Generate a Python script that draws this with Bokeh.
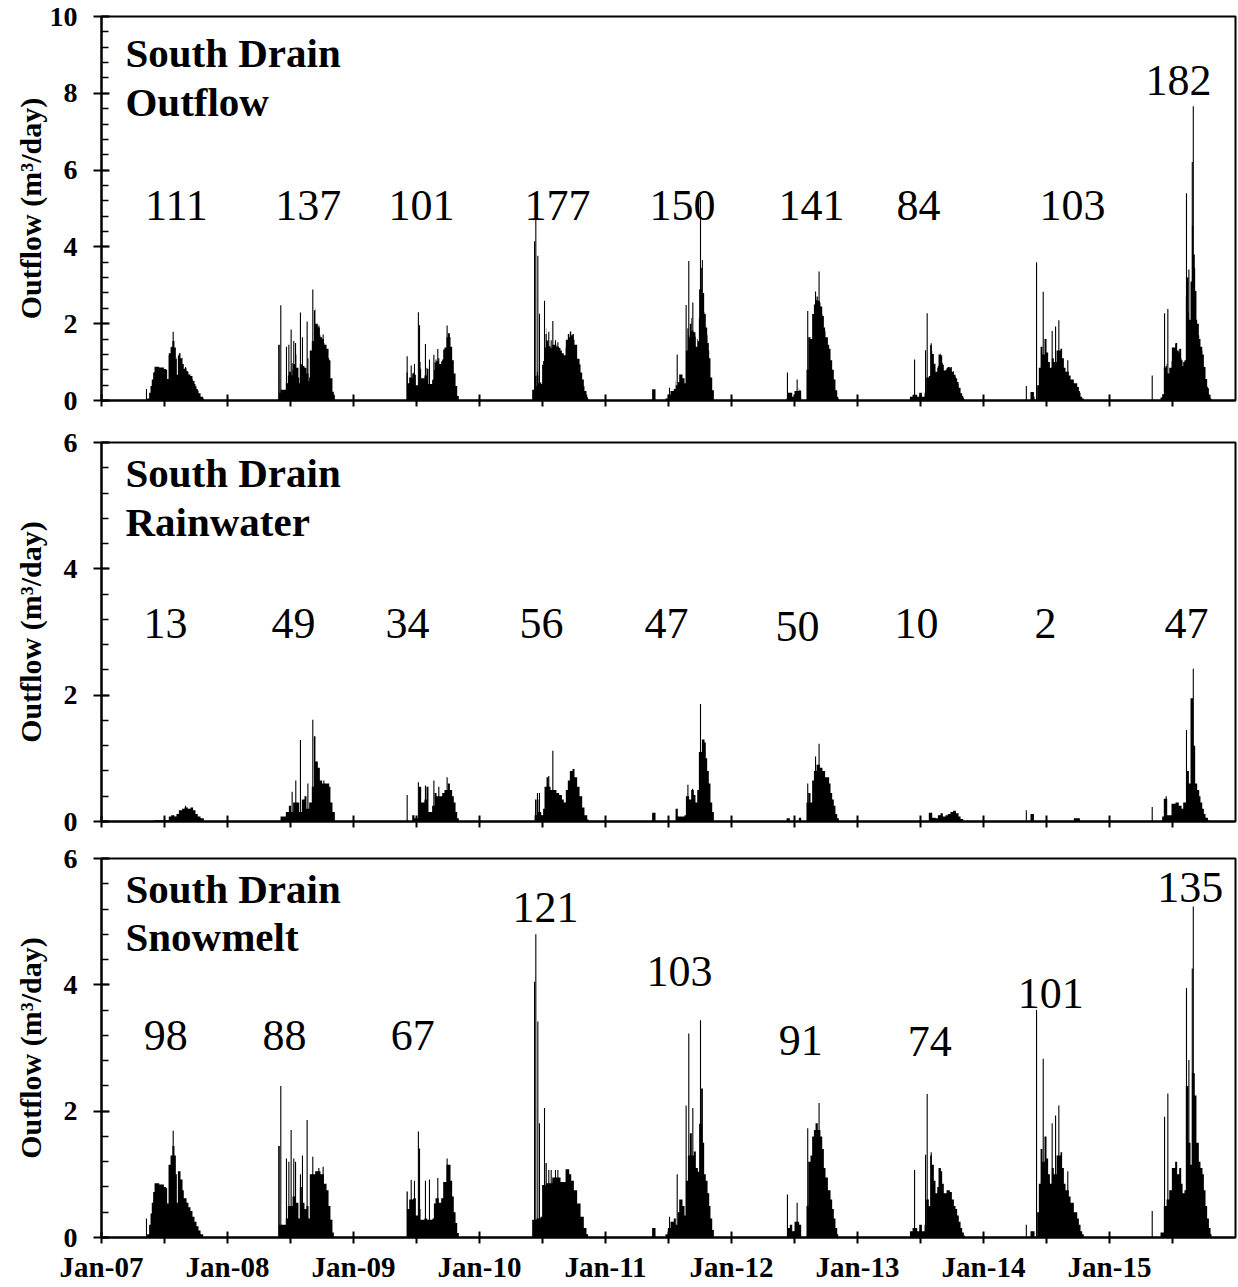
import numpy as np
from bokeh.plotting import figure
from bokeh.layouts import column
from bokeh.models import FixedTicker, SingleIntervalTicker, Range1d
from bokeh.core.properties import value
from bokeh.embed import file_html
from bokeh.resources import INLINE

FONT = "Liberation Serif"

# ---------------------------------------------------------------------------
# Daily drain outflow split into rainwater and snowmelt, m3/day.
# Each season is a step series of (decimal year, rate) readings; the rate
# holds until the next reading.  Single-day peaks are listed separately.
# ---------------------------------------------------------------------------
rain_2007 = [(2007.415, 0.02), (2007.534, 0.08), (2007.553, 0.10), (2007.579, 0.08), (2007.595, 0.12),
             (2007.614, 0.18), (2007.640, 0.20), (2007.659, 0.22), (2007.685, 0.20), (2007.706, 0.22),
             (2007.727, 0.18), (2007.746, 0.12), (2007.764, 0.08), (2007.786, 0.05), (2007.812, 0.0)]
rain_2007_peaks = [(2007.667, 0.25)]

rain_2008 = [(2008.421, 0.08), (2008.463, 0.15), (2008.487, 0.25), (2008.505, 0.15), (2008.521, 0.30),
             (2008.569, 0.15), (2008.590, 0.35), (2008.611, 0.40), (2008.627, 0.20), (2008.648, 0.30),
             (2008.669, 0.55), (2008.685, 1.35), (2008.698, 0.95), (2008.717, 0.85), (2008.733, 0.65),
             (2008.751, 0.60), (2008.807, 0.55), (2008.817, 0.30), (2008.833, 0.15), (2008.852, 0.0)]
rain_2008_peaks = [(2008.513, 0.47), (2008.542, 0.65), (2008.579, 1.29), (2008.638, 0.60),
                   (2008.677, 1.61), (2008.765, 0.65)]

rain_2009 = [(2009.466, 0.10), (2009.484, 0.05), (2009.519, 0.55), (2009.537, 0.30), (2009.563, 0.35),
             (2009.579, 0.55), (2009.595, 0.15), (2009.624, 0.25), (2009.643, 0.45), (2009.659, 0.40),
             (2009.704, 0.45), (2009.722, 0.50), (2009.749, 0.60), (2009.765, 0.50), (2009.783, 0.40),
             (2009.796, 0.30), (2009.810, 0.15), (2009.823, 0.05), (2009.836, 0.0)]
rain_2009_peaks = [(2009.426, 0.42), (2009.515, 0.62), (2009.571, 0.57), (2009.638, 0.65),
                   (2009.677, 0.55), (2009.743, 0.70)]

rain_2010 = [(2010.437, 0.10), (2010.452, 0.35), (2010.468, 0.15), (2010.490, 0.10), (2010.505, 0.20),
             (2010.516, 0.55), (2010.532, 0.70), (2010.548, 0.55), (2010.564, 0.50), (2010.611, 0.45),
             (2010.632, 0.42), (2010.654, 0.35), (2010.669, 0.30), (2010.685, 0.50), (2010.701, 0.65),
             (2010.717, 0.80), (2010.738, 0.83), (2010.754, 0.70), (2010.775, 0.55), (2010.794, 0.40),
             (2010.815, 0.22), (2010.833, 0.10), (2010.855, 0.03), (2010.865, 0.0)]
rain_2010_peaks = [(2010.445, 0.35), (2010.460, 0.45), (2010.476, 0.45), (2010.550, 0.72), (2010.582, 1.12)]

rain_2011 = [(2011.370, 0.14), (2011.397, 0.0), (2011.556, 0.20), (2011.574, 0.08), (2011.627, 0.10),
             (2011.638, 0.40), (2011.664, 0.35), (2011.680, 0.50), (2011.701, 0.42), (2011.714, 0.30),
             (2011.728, 0.50), (2011.741, 1.10), (2011.765, 1.30), (2011.786, 1.25), (2011.796, 1.00),
             (2011.807, 0.80), (2011.820, 0.60), (2011.833, 0.30), (2011.847, 0.15), (2011.860, 0.0)]
rain_2011_peaks = [(2011.654, 0.58), (2011.691, 0.52), (2011.754, 1.86)]

rain_2012 = [(2012.437, 0.05), (2012.463, 0.0), (2012.534, 0.06), (2012.553, 0.0), (2012.595, 0.30),
             (2012.609, 0.45), (2012.627, 0.30), (2012.640, 0.65), (2012.654, 0.80), (2012.675, 0.90),
             (2012.701, 0.85), (2012.722, 0.80), (2012.743, 0.70), (2012.775, 0.60), (2012.786, 0.45),
             (2012.799, 0.35), (2012.812, 0.25), (2012.825, 0.12), (2012.839, 0.05), (2012.852, 0.0)]
rain_2012_peaks = [(2012.605, 0.60), (2012.667, 1.03), (2012.695, 1.23)]

rain_2013 = [(2013.566, 0.14), (2013.593, 0.06), (2013.619, 0.05), (2013.638, 0.10), (2013.659, 0.13),
             (2013.677, 0.08), (2013.699, 0.10), (2013.717, 0.12), (2013.738, 0.15), (2013.759, 0.17),
             (2013.781, 0.13), (2013.802, 0.08), (2013.818, 0.04), (2013.839, 0.0)]
rain_2013_peaks = []

rain_2014 = [(2014.373, 0.12), (2014.400, 0.0), (2014.717, 0.05), (2014.765, 0.0)]
rain_2014_peaks = [(2014.340, 0.18)]

rain_2015 = [(2015.418, 0.08), (2015.431, 0.36), (2015.458, 0.10), (2015.492, 0.28), (2015.524, 0.30),
             (2015.550, 0.25), (2015.572, 0.20), (2015.585, 0.30), (2015.611, 0.80), (2015.630, 0.60),
             (2015.643, 1.95), (2015.664, 1.20), (2015.680, 0.60), (2015.696, 0.50), (2015.712, 0.40),
             (2015.722, 0.30), (2015.736, 0.20), (2015.749, 0.12), (2015.762, 0.06), (2015.781, 0.02),
             (2015.791, 0.0)]
rain_2015_peaks = [(2015.339, 0.23), (2015.450, 0.40), (2015.611, 1.45), (2015.665, 2.42)]

snow_2007 = [(2007.362, 0.05), (2007.378, 0.20), (2007.389, 0.38), (2007.399, 0.55), (2007.410, 0.72),
             (2007.421, 0.86), (2007.458, 0.84), (2007.495, 0.80), (2007.513, 0.78), (2007.521, 0.54),
             (2007.532, 1.15), (2007.548, 1.30), (2007.563, 1.45), (2007.579, 1.30), (2007.590, 1.00),
             (2007.598, 0.55), (2007.606, 1.05), (2007.627, 0.92), (2007.643, 0.75), (2007.653, 0.62),
             (2007.675, 0.55), (2007.690, 0.48), (2007.706, 0.42), (2007.722, 0.33), (2007.738, 0.25),
             (2007.754, 0.18), (2007.770, 0.11), (2007.786, 0.05), (2007.807, 0.0)]
snow_2007_peaks = [(2007.357, 0.30), (2007.569, 1.69)]

snow_2008 = [(2008.402, 1.45), (2008.415, 0.20), (2008.463, 0.30), (2008.479, 0.50), (2008.516, 0.65),
             (2008.542, 0.55), (2008.563, 0.30), (2008.574, 0.80), (2008.590, 0.55), (2008.611, 0.45),
             (2008.627, 0.50), (2008.643, 0.30), (2008.653, 1.00), (2008.696, 1.05), (2008.738, 1.00),
             (2008.765, 0.85), (2008.786, 0.75), (2008.802, 0.50), (2008.817, 0.28), (2008.833, 0.08),
             (2008.844, 0.0)]
snow_2008_peaks = [(2008.423, 2.40), (2008.468, 1.25), (2008.487, 1.20), (2008.505, 1.70), (2008.526, 1.25),
                   (2008.540, 1.20), (2008.579, 1.00), (2008.595, 1.30), (2008.632, 1.86), (2008.677, 1.28),
                   (2008.725, 1.10), (2008.759, 1.12)]

snow_2009 = [(2009.421, 0.73), (2009.431, 0.45), (2009.442, 0.60), (2009.474, 0.62), (2009.495, 0.35),
             (2009.519, 0.45), (2009.532, 0.28), (2009.563, 0.30), (2009.585, 0.28), (2009.627, 0.30),
             (2009.638, 0.54), (2009.651, 0.62), (2009.677, 0.55), (2009.696, 0.62), (2009.712, 0.88),
             (2009.738, 1.15), (2009.770, 0.90), (2009.783, 0.65), (2009.796, 0.40), (2009.810, 0.23),
             (2009.823, 0.07), (2009.836, 0.0)]
snow_2009_peaks = [(2009.458, 0.91), (2009.484, 0.90), (2009.515, 1.68), (2009.524, 1.41), (2009.571, 0.90),
                   (2009.603, 0.92), (2009.669, 0.94), (2009.743, 1.25)]

snow_2010 = [(2010.418, 0.28), (2010.452, 0.30), (2010.484, 0.33), (2010.497, 0.83), (2010.524, 1.18),
             (2010.534, 0.86), (2010.577, 0.95), (2010.643, 0.88), (2010.683, 1.08), (2010.712, 1.00),
             (2010.728, 0.90), (2010.749, 0.75), (2010.775, 0.54), (2010.802, 0.33), (2010.828, 0.15),
             (2010.849, 0.05), (2010.862, 0.0)]
snow_2010_peaks = [(2010.437, 4.05), (2010.447, 4.80), (2010.463, 3.42), (2010.476, 1.81), (2010.516, 2.05),
                   (2010.550, 1.07), (2010.569, 1.07), (2010.603, 1.07), (2010.622, 1.07)]

snow_2011 = [(2011.370, 0.15), (2011.397, 0.0), (2011.476, 0.05), (2011.495, 0.15), (2011.516, 0.25),
             (2011.542, 0.30), (2011.558, 0.20), (2011.574, 0.40), (2011.585, 0.60), (2011.611, 0.50),
             (2011.627, 0.35), (2011.638, 0.90), (2011.654, 1.30), (2011.669, 1.65), (2011.685, 1.30),
             (2011.701, 1.36), (2011.717, 1.10), (2011.733, 1.04), (2011.743, 1.80), (2011.759, 2.36),
             (2011.773, 1.50), (2011.783, 1.00), (2011.796, 0.90), (2011.810, 0.70), (2011.823, 0.50),
             (2011.833, 0.30), (2011.847, 0.12), (2011.860, 0.0)]
snow_2011_peaks = [(2011.508, 0.33), (2011.569, 1.00), (2011.640, 2.09), (2011.661, 3.23), (2011.693, 2.05),
                   (2011.754, 3.44)]

snow_2012 = [(2012.442, 0.15), (2012.463, 0.20), (2012.482, 0.10), (2012.500, 0.25), (2012.537, 0.20),
             (2012.553, 0.0), (2012.595, 0.50), (2012.609, 1.20), (2012.627, 1.30), (2012.640, 1.60),
             (2012.654, 1.70), (2012.667, 1.81), (2012.685, 1.70), (2012.706, 1.60), (2012.720, 1.40),
             (2012.733, 1.10), (2012.746, 0.95), (2012.765, 0.75), (2012.786, 0.60), (2012.799, 0.45),
             (2012.812, 0.30), (2012.825, 0.15), (2012.839, 0.05), (2012.847, 0.0)]
snow_2012_peaks = [(2012.444, 0.68), (2012.521, 0.55), (2012.605, 1.73), (2012.695, 2.13)]

snow_2013 = [(2013.416, 0.10), (2013.437, 0.15), (2013.474, 0.10), (2013.490, 0.20), (2013.511, 0.10),
             (2013.532, 0.20), (2013.545, 0.60), (2013.566, 0.50), (2013.577, 1.30), (2013.590, 1.15),
             (2013.606, 0.90), (2013.619, 0.70), (2013.633, 0.80), (2013.643, 1.10), (2013.662, 1.05),
             (2013.672, 0.85), (2013.685, 0.70), (2013.707, 0.75), (2013.733, 0.72), (2013.749, 0.60),
             (2013.765, 0.50), (2013.778, 0.45), (2013.791, 0.35), (2013.804, 0.25), (2013.818, 0.15),
             (2013.831, 0.08), (2013.844, 0.03), (2013.852, 0.0)]
snow_2013_peaks = [(2013.453, 1.07), (2013.540, 1.31), (2013.553, 2.27), (2013.585, 1.35)]

snow_2014 = [(2014.373, 0.10), (2014.405, 0.0), (2014.426, 0.40), (2014.439, 0.85), (2014.453, 1.40),
             (2014.468, 1.20), (2014.484, 1.60), (2014.500, 1.25), (2014.513, 1.00), (2014.527, 0.85),
             (2014.542, 1.10), (2014.558, 1.00), (2014.580, 1.30), (2014.611, 1.35), (2014.624, 1.10),
             (2014.638, 0.85), (2014.651, 0.75), (2014.677, 0.65), (2014.691, 0.55), (2014.717, 0.40),
             (2014.744, 0.30), (2014.757, 0.20), (2014.770, 0.10), (2014.783, 0.05), (2014.796, 0.0)]
snow_2014_peaks = [(2014.340, 0.20), (2014.421, 3.60), (2014.474, 2.83), (2014.545, 1.81), (2014.572, 1.93),
                   (2014.598, 2.09), (2014.669, 1.05)]

snow_2015 = [(2015.405, 0.08), (2015.431, 0.50), (2015.453, 0.60), (2015.474, 0.75), (2015.495, 1.10),
             (2015.521, 1.20), (2015.537, 1.00), (2015.553, 1.10), (2015.569, 0.85), (2015.580, 0.70),
             (2015.595, 0.75), (2015.606, 2.40), (2015.627, 1.50), (2015.643, 1.15), (2015.654, 2.60),
             (2015.677, 2.25), (2015.690, 1.50), (2015.709, 1.20), (2015.722, 1.10), (2015.738, 1.00),
             (2015.749, 0.75), (2015.762, 0.50), (2015.775, 0.30), (2015.789, 0.15), (2015.802, 0.05),
             (2015.810, 0.0)]
snow_2015_peaks = [(2015.339, 0.42), (2015.437, 1.91), (2015.463, 2.28), (2015.611, 3.95), (2015.630, 2.81),
                   (2015.657, 4.26), (2015.665, 5.24)]

# Seasonal volumes, m3
outflow_totals = [111, 137, 101, 177, 150, 141, 84, 103, 182]
rain_totals = [13, 49, 34, 56, 47, 50, 10, 2, 47]
snow_totals = [98, 88, 67, 121, 103, 91, 74, 101, 135]

# Axis ticks
tick_years = list(range(2007, 2016))
tick_labels = ["Jan-07", "Jan-08", "Jan-09", "Jan-10", "Jan-11", "Jan-12", "Jan-13", "Jan-14", "Jan-15"]

rain_seasons = [rain_2007, rain_2008, rain_2009, rain_2010, rain_2011, rain_2012, rain_2013, rain_2014, rain_2015]
rain_peaks = [rain_2007_peaks, rain_2008_peaks, rain_2009_peaks, rain_2010_peaks, rain_2011_peaks,
              rain_2012_peaks, rain_2013_peaks, rain_2014_peaks, rain_2015_peaks]
snow_seasons = [snow_2007, snow_2008, snow_2009, snow_2010, snow_2011, snow_2012, snow_2013, snow_2014, snow_2015]
snow_peaks = [snow_2007_peaks, snow_2008_peaks, snow_2009_peaks, snow_2010_peaks, snow_2011_peaks,
              snow_2012_peaks, snow_2013_peaks, snow_2014_peaks, snow_2015_peaks]

# Where the volume figures sit in each panel (decimal year, rate at the text baseline)
outflow_label_x = [2007.595, 2008.640, 2009.540, 2010.619, 2011.611, 2012.635, 2013.484, 2014.706, 2015.548]
outflow_label_y = [5.08, 5.08, 5.08, 5.08, 5.08, 5.08, 5.08, 5.08, 8.33]
rain_label_x = [2007.508, 2008.524, 2009.429, 2010.492, 2011.484, 2012.524, 2013.468, 2014.492, 2015.611]
rain_label_y = [3.13, 3.13, 3.13, 3.13, 3.13, 3.09, 3.13, 3.13, 3.13]
snow_label_x = [2007.510, 2008.452, 2009.471, 2010.524, 2011.587, 2012.550, 2013.574, 2014.534, 2015.640]
snow_label_y = [3.20, 3.20, 3.20, 5.23, 4.21, 3.12, 3.10, 3.86, 5.54]

DAY = 1.0 / 365.25


def flatten(groups):
    pts = sorted(p for g in groups for p in g)
    return np.array([p[0] for p in pts], dtype=float), np.array([p[1] for p in pts], dtype=float)


def step_at(t, v, q):
    i = np.searchsorted(t, q, side="right") - 1
    return np.where(i >= 0, v[np.clip(i, 0, len(v) - 1)], 0.0)


def day_value(q, env_t, env_v, pk_t, pk_v):
    # a one-day peak replaces the running rate on its own day
    out = step_at(env_t, env_v, q)
    for k, d in enumerate(q):
        hit = np.abs(pk_t - d) < 0.5 * DAY
        if hit.any():
            out[k] = max(out[k], pk_v[hit].max())
    return out


rain_t, rain_v = flatten(rain_seasons)
snow_t, snow_v = flatten(snow_seasons)
rain_pt, rain_pv = flatten(rain_peaks)
snow_pt, snow_pv = flatten(snow_peaks)

# total drain outflow is rainwater + snowmelt
out_t = np.union1d(rain_t, snow_t)
out_v = step_at(rain_t, rain_v, out_t) + step_at(snow_t, snow_v, out_t)
out_pt = np.union1d(rain_pt, snow_pt)
out_pv = (day_value(out_pt, rain_t, rain_v, rain_pt, rain_pv)
          + day_value(out_pt, snow_t, snow_v, snow_pt, snow_pv))


def make_panel(env_t, env_v, pk_t, pk_v, ymax, height, top, bottom, title, title_y,
               totals, lab_x, lab_y, show_dates, label_standoff):
    p = figure(width=1238, height=height, x_range=Range1d(2007.0, 2016.0), y_range=Range1d(0, ymax),
               output_backend="svg", toolbar_location=None,
               min_border_left=101, min_border_right=3, min_border_top=top, min_border_bottom=bottom)
    p.background_fill_color = "white"
    p.border_fill_color = "white"
    p.outline_line_color = "black"
    p.outline_line_width = 2
    p.grid.visible = False

    p.varea_step(x=env_t, y1=np.zeros_like(env_v), y2=env_v, step_mode="after",
                 fill_color="black", fill_alpha=1.0)
    p.segment(x0=pk_t, y0=np.zeros_like(pk_v), x1=pk_t, y1=pk_v, line_color="black", line_width=1.1)

    p.text(x=lab_x, y=lab_y, text=[str(v) for v in totals], text_font=value(FONT),
           text_font_size="44px", text_align="center", text_baseline="alphabetic", text_color="black")
    p.text(x=[2007.19, 2007.19], y=title_y, text=title, text_font=value(FONT),
           text_font_style="bold", text_font_size="41px", text_align="left",
           text_baseline="alphabetic", text_color="black")

    xa = p.xaxis[0]
    xa.ticker = FixedTicker(ticks=tick_years, minor_ticks=[y + 0.5 for y in tick_years])
    xa.axis_line_width = 2
    xa.major_tick_line_width = 2
    xa.minor_tick_line_width = 2
    xa.major_tick_in = 6
    xa.major_tick_out = 6
    xa.minor_tick_in = 6
    xa.minor_tick_out = 6
    if show_dates:
        xa.major_label_overrides = {y: lab for y, lab in zip(tick_years, tick_labels)}
        xa.major_label_text_font = FONT
        xa.major_label_text_font_style = "bold"
        xa.major_label_text_font_size = "29px"
        xa.major_label_text_color = "black"
        xa.major_label_standoff = 7
    else:
        # upper panels carry the date ticks but no date labels
        xa.major_label_text_color = None
        xa.major_label_text_font_size = "1px"
        xa.major_label_standoff = 0

    ya = p.yaxis[0]
    ya.ticker = SingleIntervalTicker(interval=2, num_minor_ticks=5)
    ya.axis_line_width = 2
    ya.major_tick_line_width = 2
    ya.minor_tick_line_width = 1.5
    ya.major_tick_in = 8
    ya.major_tick_out = 8
    ya.minor_tick_in = 7
    ya.minor_tick_out = 0
    ya.major_label_text_font = FONT
    ya.major_label_text_font_style = "bold"
    ya.major_label_text_font_size = "28px"
    ya.major_label_text_color = "black"
    ya.major_label_standoff = 16
    ya.axis_label = "Outflow (m\u00b3/day)"
    ya.axis_label_text_font = FONT
    ya.axis_label_text_font_style = "bold"
    ya.axis_label_text_font_size = "30px"
    ya.axis_label_text_color = "black"
    ya.axis_label_standoff = label_standoff
    return p


p1 = make_panel(out_t, out_v, out_pt, out_pv, 10, 420, 16, 20,
                ["South Drain", "Outflow"], [9.06, 7.78],
                outflow_totals, outflow_label_x, outflow_label_y, False, 0)
p2 = make_panel(rain_t, rain_v, rain_pt, rain_pv, 6, 420, 22, 19,
                ["South Drain", "Rainwater"], [5.52, 4.74],
                rain_totals, rain_label_x, rain_label_y, False, 14)
p3 = make_panel(snow_t, snow_v, snow_pt, snow_pv, 6, 447, 18, 50,
                ["South Drain", "Snowmelt"], [5.51, 4.75],
                snow_totals, snow_label_x, snow_label_y, True, 14)

layout = column(p1, p2, p3, spacing=0)
open("out.html", "w").write(file_html(layout, INLINE))
